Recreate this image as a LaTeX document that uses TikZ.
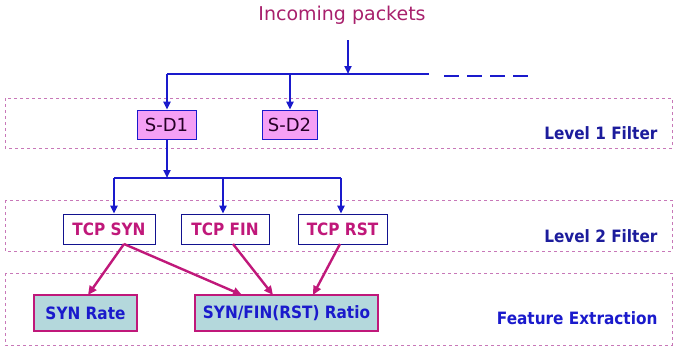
\documentclass[tikz,border=0pt]{standalone}
\usepackage{fontspec}
\setmainfont{DejaVu Sans}[BoldFeatures={FakeStretch=0.9}]
\usetikzlibrary{arrows.meta}

\definecolor{busblue}{HTML}{1A1ACC}
\definecolor{flowmag}{HTML}{C0187A}
\definecolor{bandpink}{HTML}{C878B8}
\definecolor{sdpink}{HTML}{F5A0F5}
\definecolor{featfill}{HTML}{B4D8DC}
\definecolor{titlemag}{HTML}{A8206C}
\definecolor{lvlblue}{HTML}{1C1C9C}

\begin{document}
\begin{tikzpicture}[x=1pt, y=-1pt,
    band/.style={draw=bandpink, dashed, line width=0.6pt},
    sdbox/.style={draw=busblue, fill=sdpink, line width=0.8pt, minimum height=29pt,
      inner sep=0pt, text=black!70!violet, font=\fontsize{18}{18}\selectfont},
    tcpbox/.style={draw=busblue!70!black, fill=white, line width=0.7pt, minimum height=30pt,
      inner sep=0pt, text=flowmag, font=\bfseries\fontsize{17}{17}\selectfont},
    featbox/.style={draw=flowmag, fill=featfill, line width=2.4pt, minimum height=36pt,
      inner sep=0pt, text=busblue, font=\bfseries\fontsize{17}{17}\selectfont},
    lvl/.style={anchor=east, text=lvlblue, font=\bfseries\fontsize{17}{17}\selectfont},
    bus/.style={draw=busblue, line width=2.6pt},
    busarrow/.style={bus, -{Triangle[length=8pt, width=7pt]}},
    flow/.style={draw=flowmag, line width=2.4pt, -{Triangle[length=9pt, width=8pt]}}]
  \useasboundingbox (0,0) rectangle (673,349);
  % bands
  \draw[band] (5,98) rectangle (672,148);
  \draw[band] (5,200) rectangle (672,251);
  \draw[band] (5,273) rectangle (672,345);
  % labels
  \node[text=titlemag, font=\fontsize{19}{19}\selectfont] (incoming) at (342,15) {Incoming packets};
  \node[lvl] (lvlone) at (661,133) {Level 1 Filter};
  \node[lvl] (lvltwo) at (661,236) {Level 2 Filter};
  \node[lvl, text=busblue] (lvlfeat) at (661,318) {Feature Extraction};
  % boxes
  \node[sdbox, minimum width=59pt] (sd1) at (166.5,124.5) {S-D1};
  \node[sdbox, minimum width=55pt] (sd2) at (289.5,124.5) {S-D2};
  \node[tcpbox, minimum width=92pt] (syn) at (109,229) {TCP SYN};
  \node[tcpbox, minimum width=88pt] (fin) at (225,229) {TCP FIN};
  \node[tcpbox, minimum width=89pt] (rst) at (342.5,229) {TCP RST};
  \node[featbox, minimum width=103pt] (rate) at (85.5,313) {SYN Rate};
  \node[featbox, minimum width=183pt] (ratio) at (286.5,313) {SYN/FIN(RST) Ratio};
  % first bus
  \coordinate (intop) at (348,40);
  \coordinate (inbus) at (348,74);
  \coordinate (busl) at (167,74);
  \coordinate (busr) at (429,74);
  \coordinate (bussd2) at (290,74);
  \coordinate (dashl) at (444,76);
  \coordinate (dashr) at (532,76);
  \draw[busarrow] (intop) -- (inbus);
  \draw[bus] (busl) -- (busr);
  \draw[bus, dashed, dash pattern=on 15pt off 8pt] (dashl) -- (dashr);
  \draw[busarrow] (busl) -- (busl |- sd1.north);
  \draw[busarrow] (bussd2) -- (bussd2 |- sd2.north);
  % second bus
  \coordinate (bustwo) at (167,178);
  \coordinate (bsyn) at (114,178);
  \coordinate (bfin) at (223,178);
  \coordinate (brst) at (341,178);
  \draw[busarrow] (bustwo |- sd1.south) -- (bustwo);
  \draw[bus] (bsyn) -- (brst);
  \draw[busarrow] (bsyn) -- (bsyn |- syn.north);
  \draw[busarrow] (bfin) -- (bfin |- fin.north);
  \draw[busarrow] (brst) -- (brst |- rst.north);
  % features
  \coordinate (synout) at (124,244);
  \draw[flow] (synout) -- (88,295);
  \draw[flow] (synout) -- (242,295);
  \draw[flow] (233,244) -- (273,295);
  \draw[flow] (340,244) -- (313,295);
\end{tikzpicture}
\end{document}
